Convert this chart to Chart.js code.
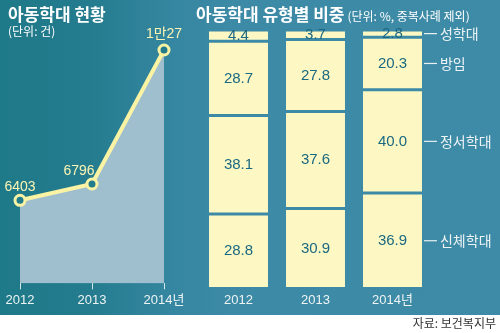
<!DOCTYPE html>
<html>
<head>
<meta charset="utf-8">
<script src="https://cdn.jsdelivr.net/npm/chart.js@4.4.1/dist/chart.umd.min.js"></script>
<style>
  html, body { margin: 0; padding: 0; background: #fff; }
  body { width: 500px; height: 333px; position: relative; overflow: hidden;
         font-family: "Noto Sans CJK KR", "Noto Sans", sans-serif; }
  #panel { position: absolute; left: 0; top: 0; width: 500px; height: 315px;
           background: linear-gradient(90deg, #1e7988 0px, #247c8e 90px, #3586a0 170px, #3c8aa6 230px, #3e8ba7 500px); }
  canvas { position: absolute; }
  #left { left: 0; top: 0; }
  #right { left: 195px; top: 0; }
  .t { position: absolute; color: #fff; white-space: nowrap; }
  .h { font-weight: 700; font-size: 17px; }
  .s { font-size: 12px; }
  #src { position: absolute; right: 4px; top: 314px; font-size: 12px; color: #333; }
</style>
</head>
<body>
<div id="panel"></div>
<canvas id="left" width="200" height="315"></canvas>
<canvas id="right" width="305" height="315"></canvas>
<div class="t h" style="left:8px; top:1px;">아동학대 현황</div>
<div class="t s" style="left:8px; top:22px;">(단위: 건)</div>
<div class="t h" style="left:196px; top:1px;">아동학대 유형별 비중<span style="font-weight:400; font-size:12px; margin-left:3px;">(단위: %, 중복사례 제외)</span></div>
<div id="src">자료: 보건복지부</div>
<script>
  // left: yearly case counts
  const years = ["2012", "2013", "2014년"];
  const cases = [6403, 6796, 10027];
  const caseLabels = ["6403", "6796", "1만27"];

  // right: share by abuse type (%), bottom to top
  const types = ["신체학대", "정서학대", "방임", "성학대"];
  const physical = [28.8, 30.9, 36.9];
  const emotional = [38.1, 37.6, 40.0];
  const neglect = [28.7, 27.8, 20.3];
  const sexual = [4.4, 3.7, 2.8];

  const YELLOW = "#fbf3a4";
  const BAR = "#fdf8c3";
  const BG_RIGHT = "#3d8aa6";
  const NUM = "#1a6882";
  const NARROW = '"Liberation Sans Narrow", "Liberation Sans", "Noto Sans CJK KR", sans-serif';

  // value labels next to the line points
  const pointLabels = {
    id: "pointLabels",
    afterDatasetsDraw(chart) {
      const ctx = chart.ctx;
      const pts = chart.getDatasetMeta(0).data;
      const offs = [[0, -13], [-13, -13], [0, -16]];
      ctx.save();
      ctx.fillStyle = "#fbf4b4";
      ctx.font = "14px " + NARROW;
      ctx.textAlign = "center";
      ctx.textBaseline = "middle";
      pts.forEach((p, i) => {
        ctx.fillText(caseLabels[i], p.x + offs[i][0], p.y + offs[i][1]);
      });
      ctx.restore();
    },
  };

  new Chart(document.getElementById("left"), {
    type: "line",
    data: {
      labels: years,
      datasets: [{
        data: cases,
        borderColor: YELLOW,
        borderWidth: 4,
        backgroundColor: "#a0bfce",
        fill: "start",
        pointRadius: 5,
        pointBorderWidth: 3,
        pointBorderColor: YELLOW,
        pointBackgroundColor: "#227c8b",
        tension: 0,
        clip: false,
      }],
    },
    options: {
      responsive: false,
      animation: false,
      layout: { padding: { left: 20, right: 36, top: 50, bottom: 4 } },
      plugins: { legend: { display: false }, tooltip: { enabled: false } },
      scales: {
        x: {
          offset: false,
          grid: { display: true, drawOnChartArea: false, drawTicks: true, tickLength: 6, color: "rgba(255,255,255,0.8)" },
          border: { display: false },
          ticks: { color: "#eef4f4", padding: 3, maxRotation: 0, autoSkip: false,
                   font: { size: 13, family: NARROW } },
        },
        y: { display: false, min: 4400, max: 10027 },
      },
    },
    plugins: [pointLabels],
  });

  // numbers inside segments + type names beside the last bar
  const barLabels = {
    id: "barLabels",
    afterDatasetsDraw(chart) {
      const ctx = chart.ctx;
      ctx.save();
      ctx.textBaseline = "middle";
      chart.data.datasets.forEach((ds, di) => {
        const meta = chart.getDatasetMeta(di);
        ctx.textAlign = "center";
        ctx.fillStyle = NUM;
        ctx.font = '15px "Liberation Sans", sans-serif';
        meta.data.forEach((bar, i) => {
          ctx.fillText(ds.data[i].toFixed(1), bar.x, (bar.y + bar.base) / 2);
        });
        const last = meta.data[meta.data.length - 1];
        const cy = (last.y + last.base) / 2;
        const x0 = last.x + last.width / 2 + 2;
        ctx.strokeStyle = "#e8f0f2";
        ctx.lineWidth = 1.2;
        ctx.beginPath();
        ctx.moveTo(x0, cy);
        ctx.lineTo(x0 + 13, cy);
        ctx.stroke();
        ctx.fillStyle = "#eef4f6";
        ctx.font = '14px "Noto Sans CJK KR", sans-serif';
        ctx.textAlign = "left";
        ctx.fillText(ds.label, x0 + 16, cy);
      });
      ctx.restore();
    },
  };

  const seg = (label, data) => ({
    label: label,
    data: data,
    backgroundColor: BAR,
    borderColor: BG_RIGHT,
    borderWidth: { top: 1.5, bottom: 1.5, left: 0, right: 0 },
    borderSkipped: false,
    barPercentage: 0.766,
    categoryPercentage: 1,
  });

  new Chart(document.getElementById("right"), {
    type: "bar",
    data: {
      labels: years,
      datasets: [
        seg(types[0], physical),
        seg(types[1], emotional),
        seg(types[2], neglect),
        seg(types[3], sexual),
      ],
    },
    options: {
      responsive: false,
      animation: false,
      layout: { padding: { left: 5, right: 69, top: 30, bottom: 3 } },
      plugins: { legend: { display: false }, tooltip: { enabled: false } },
      scales: {
        x: {
          stacked: true,
          grid: { display: false, drawTicks: false },
          border: { display: false },
          ticks: { color: "#eef4f4", padding: 4, maxRotation: 0,
                   font: { size: 13, family: NARROW } },
        },
        y: { stacked: true, display: false, min: 0, max: 100 },
      },
    },
    plugins: [barLabels],
  });
</script>
</body>
</html>
